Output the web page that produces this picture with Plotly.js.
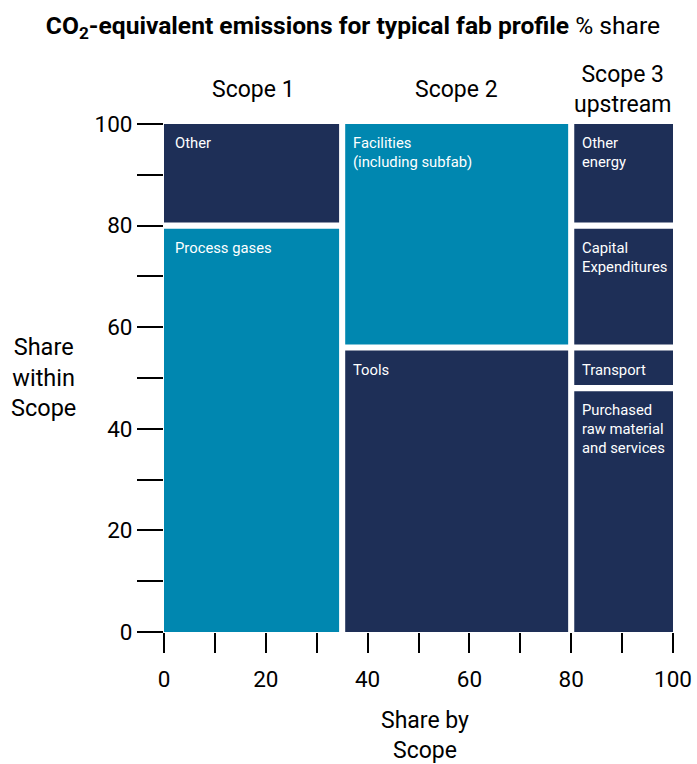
<!DOCTYPE html>
<html>
<head>
<meta charset="utf-8">
<script src="https://cdn.plot.ly/plotly-3.0.1.min.js"></script>
<style>html,body{margin:0;padding:0;background:#fff;}#chart{width:697px;height:764px;}</style>
</head>
<body>
<div id="chart"></div>
<script>
// ---- data ----
const scopeLabels = ["Scope 1", "Scope 2", "Scope 3<br>upstream"];
const scopeShare = [35, 45, 20];           // share by scope (x widths)
const segScope = [0, 0, 1, 1, 2, 2, 2, 2];  // which scope each segment belongs to
const segLabels = ["Process gases", "Other",
                   "Tools", "Facilities<br>(including subfab)",
                   "Purchased<br>raw material<br>and services", "Transport", "Capital<br>Expenditures", "Other<br>energy"];
const segShare = [80, 20, 56, 44, 48, 8, 24, 20]; // share within scope (bottom to top)
const segKind = ["teal", "navy", "navy", "teal", "navy", "navy", "navy", "navy"];
const tickValues = [0, 10, 20, 30, 40, 50, 60, 70, 80, 90, 100];
const tickLabels = ["0", "", "20", "", "40", "", "60", "", "80", "", "100"];

// ---- style ----
const colors = {teal: "#0087B0", navy: "#1E2F57"};
const gap = 1.2;
const FONT = "Roboto, 'Noto Sans', sans-serif";
const L = 164, R = 24, T = 124, B = 132, W = 697, H = 764;

const scopeStart = [];
let acc = 0;
scopeShare.forEach(w => { scopeStart.push(acc); acc += w; });

const bx = [], bw = [], bb = [], bh = [], bc = [];
const annotations = [];
const cumWithin = scopeShare.map(() => 0);
segShare.forEach((v, i) => {
  const s = segScope[i];
  const x0 = scopeStart[s], x1 = x0 + scopeShare[s];
  const left = x0 + (x0 > 0 ? gap / 2 : 0);
  const right = x1 - (x1 < 100 ? gap / 2 : 0);
  const y0 = cumWithin[s], y1 = y0 + v;
  cumWithin[s] = y1;
  const bottom = y0 + (y0 > 0 ? gap / 2 : 0);
  const top = y1 - (y1 < 100 ? gap / 2 : 0);
  bx.push((left + right) / 2); bw.push(right - left);
  bb.push(bottom); bh.push(top - bottom); bc.push(colors[segKind[i]]);
  annotations.push({
    x: left, y: top, xref: "x", yref: "y", xanchor: "left", yanchor: "top",
    xshift: (s === 0 ? 9 : 6), yshift: -8, align: "left", showarrow: false,
    text: segLabels[i], font: {family: FONT, size: 14.8, color: "#ffffff"}
  });
});

scopeLabels.forEach((t, s) => {
  annotations.push({
    x: scopeStart[s] + scopeShare[s] / 2, y: 100, xref: "x", yref: "y",
    xanchor: "center", yanchor: "middle", yshift: 35, showarrow: false,
    text: t, font: {family: FONT, size: 23, color: "#000"}
  });
});

function paperX(px) { return (px - L) / (W - L - R); }
function paperY(py) { return 1 - (py - T) / (H - T - B); }
annotations.push({
  x: paperX(43), y: paperY(377), xref: "paper", yref: "paper", showarrow: false,
  xanchor: "center", yanchor: "middle",
  text: "Share<br>within<br>Scope", font: {family: FONT, size: 23.5, color: "#000"}
});
annotations.push({
  x: paperX(425), y: paperY(735), xref: "paper", yref: "paper", showarrow: false,
  xanchor: "center", yanchor: "middle",
  text: "Share by<br>Scope", font: {family: FONT, size: 23, color: "#000"}
});

const trace = {
  type: "bar", x: bx, y: bh, base: bb, width: bw,
  marker: {color: bc, line: {width: 0}},
  hoverinfo: "skip", showlegend: false
};

const axisCommon = {
  tickmode: "array", tickvals: tickValues, ticktext: tickLabels,
  ticks: "outside", tickwidth: 2, tickcolor: "#000",
  showgrid: false, zeroline: false, showline: false,
  tickfont: {family: FONT, size: 22.5, color: "#000"},
  range: [0, 100], fixedrange: true
};

const layout = {
  width: W, height: H,
  margin: {l: L, r: R, t: T, b: B},
  paper_bgcolor: "#fff", plot_bgcolor: "#fff",
  barmode: "overlay",
  title: {
    text: "<b>CO<sub>2</sub>-equivalent emissions for typical fab profile</b> % share",
    x: 353 / W, xref: "container", y: 1 - 25 / H, yref: "container",
    xanchor: "center", yanchor: "middle",
    font: {family: FONT, size: 24.6, color: "#000"}
  },
  xaxis: Object.assign({}, axisCommon, {ticklen: 20, ticklabelstandoff: 7}),
  yaxis: Object.assign({}, axisCommon, {ticklen: 26}),
  annotations: annotations
};

Plotly.newPlot("chart", [trace], layout, {displayModeBar: false, staticPlot: true});
</script>
</body>
</html>
